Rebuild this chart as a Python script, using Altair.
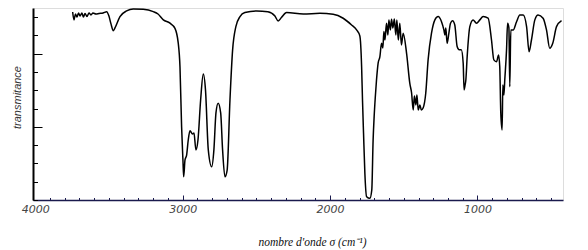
import altair as alt
import pandas as pd

# IR spectrum: wavenumber (cm-1) and transmittance (%)
wavenumber = [3746, 3737, 3727, 3717, 3706, 3696, 3683, 3673, 3662, 3649, 3635, 3622, 3608, 3588,
              3567, 3540, 3515, 3500, 3486, 3470, 3459, 3425, 3380, 3335, 3267, 3199, 3167, 3131,
              3086, 3052, 3030, 3018, 3007, 2998, 2993, 2984, 2973, 2962, 2950, 2933, 2923, 2910,
              2896, 2878, 2860, 2845, 2826, 2803, 2788, 2774, 2759, 2742, 2729, 2713, 2698, 2679,
              2661, 2639, 2611, 2578, 2498, 2422, 2374, 2352, 2329, 2295, 2182, 2069, 1979, 1911,
              1854, 1820, 1798, 1786, 1780, 1773, 1764, 1752, 1730, 1717, 1708, 1701, 1693, 1685,
              1674, 1662, 1651, 1642, 1635, 1628, 1617, 1608, 1601, 1591, 1583, 1574, 1564, 1554,
              1547, 1537, 1527, 1516, 1504, 1481, 1459, 1447, 1436, 1428, 1418, 1411, 1402, 1391,
              1381, 1369, 1351, 1335, 1312, 1289, 1267, 1244, 1228, 1221, 1215, 1206, 1194, 1183,
              1169, 1154, 1138, 1124, 1110, 1097, 1091, 1084, 1079, 1070, 1052, 1030, 1007, 984,
              962, 928, 905, 889, 871, 857, 849, 842, 833, 828, 821, 815, 803, 796, 787, 781, 774,
              758, 735, 713, 690, 667, 650, 634, 611, 589, 555, 532, 510, 489, 464, 430]
transmittance = [102.8, 98.5, 101.7, 100.1, 102.3, 100.6, 102.3, 100.1, 102.0, 100.4, 102.3, 101.2,
                 102.3, 101.7, 102.0, 102.3, 103.0, 100.6, 96.3, 92.6, 94.1, 100.3, 103.4, 104.5,
                 104.3, 103.0, 101.7, 98.5, 96.7, 93.9, 85.9, 72.7, 40.0, 21.9, 12.7, 21.9, 24.6,
                 32.8, 37.9, 36.1, 36.6, 27.4, 32.8, 54.7, 68.9, 60.2, 27.4, 18.2, 27.4, 47.6,
                 52.9, 47.6, 27.4, 12.7, 16.4, 54.7, 82.1, 94.8, 100.3, 102.5, 103.4, 103.0,
                 100.6, 97.9, 99.9, 102.5, 101.7, 102.1, 101.6, 99.4, 95.7, 93.0, 89.7, 72.9,
                 54.7, 36.6, 14.8, 1.8, 0.9, 5.5, 32.8, 45.6, 56.5, 65.6, 74.9, 78.4, 85.7, 83.1,
                 92.1, 87.5, 96.6, 90.3, 98.5, 93.0, 98.8, 94.1, 99.0, 90.3, 98.5, 87.5, 96.7,
                 84.8, 91.2, 80.2, 63.8, 58.5, 49.2, 56.9, 52.0, 57.4, 49.2, 52.0, 49.2, 50.3,
                 58.4, 76.6, 91.2, 98.5, 100.3, 97.5, 93.0, 90.3, 94.1, 85.7, 91.3, 96.7, 98.0,
                 95.7, 83.9, 82.1, 82.1, 74.8, 60.2, 62.9, 65.6, 78.4, 94.8, 98.5, 96.7, 98.5,
                 100.3, 99.4, 87.5, 76.6, 75.6, 79.3, 72.9, 47.6, 38.3, 62.9, 57.4, 65.6, 82.1,
                 96.7, 94.1, 62.0, 93.0, 93.0, 97.5, 101.2, 101.2, 94.8, 81.1, 87.5, 98.5, 101.2,
                 99.4, 93.0, 83.0, 85.9, 94.8, 98.1]

x_labels = [4000, 3000, 2000, 1000]
x_major_ticks = [3000, 2000, 1000]
x_minor_ticks = [v for v in range(500, 4000, 100) if v not in (1000, 2000, 3000)]
y_minor_ticks = [0, 10, 20, 30, 50, 60, 70, 90, 100]
y_major_ticks = [40, 80]

df = pd.DataFrame({"wn": wavenumber, "T": transmittance})

W, H = 530, 192
xs = alt.Scale(domain=[4015, 420], nice=False, zero=False)
ys = alt.Scale(domain=[0, 105], nice=False, zero=False)

line = alt.Chart(df).mark_line(color="black", strokeWidth=1.5, interpolate="monotone").encode(
    x=alt.X("wn:Q", scale=xs, axis=alt.Axis(
        orient="bottom", values=x_labels, format="d", ticks=False, tickSize=0, grid=False,
        domainColor="#1a1a4d", domainWidth=1.6,
        labelFont="DejaVu Sans", labelFontStyle="italic", labelFontSize=11,
        labelColor="#444444", labelPadding=3, labelFlush=False,
        title="nombre d'onde σ (cm⁻¹)", titleFont="Liberation Serif",
        titleFontStyle="italic", titleFontWeight="normal", titleFontSize=11.5,
        titleColor="#111111", titleX=279, titleY=45, titleBaseline="alphabetic")),
    y=alt.Y("T:Q", scale=ys, axis=alt.Axis(
        orient="left", ticks=False, tickSize=0, labels=False, grid=False,
        domainColor="black", domainWidth=2,
        title="transmitance", titleFont="Liberation Sans", titleFontStyle="italic",
        titleFontWeight="normal", titleFontSize=11, titleColor="#333333",
        titleX=-16, titleY=89, titleBaseline="middle")),
)

minor = alt.Chart(df).mark_line(opacity=0).encode(
    x=alt.X("wn:Q", scale=xs, axis=alt.Axis(
        orient="top", offset=-H, values=x_minor_ticks, tickSize=2.5, tickColor="#1a1a4d",
        tickWidth=1, labels=False, domain=False, grid=False, title=None)),
    y=alt.Y("T:Q", scale=ys, axis=alt.Axis(
        orient="right", offset=-W, values=y_minor_ticks, tickSize=4.5, tickColor="black",
        tickWidth=1, labels=False, domain=False, grid=False, title=None)),
)

major = alt.Chart(df).mark_line(opacity=0).encode(
    x=alt.X("wn:Q", scale=xs, axis=alt.Axis(
        orient="top", offset=-H, values=x_major_ticks, tickSize=5, tickColor="#1a1a4d",
        tickWidth=1, labels=False, domain=False, grid=False, title=None)),
    y=alt.Y("T:Q", scale=ys, axis=alt.Axis(
        orient="right", offset=-W, values=y_major_ticks, tickSize=9, tickColor="black",
        tickWidth=1, labels=False, domain=False, grid=False, title=None)),
)

chart = alt.layer(line, minor, major).resolve_axis(x="independent", y="independent").properties(
    width=W, height=H,
    autosize=alt.AutoSizeParams(type="none"),
    padding={"left": 25, "top": 0, "right": 17, "bottom": 50},
).configure_view(stroke=None).configure(background="white")

chart.save("out.html", embed_options={"renderer": "svg", "actions": False})
